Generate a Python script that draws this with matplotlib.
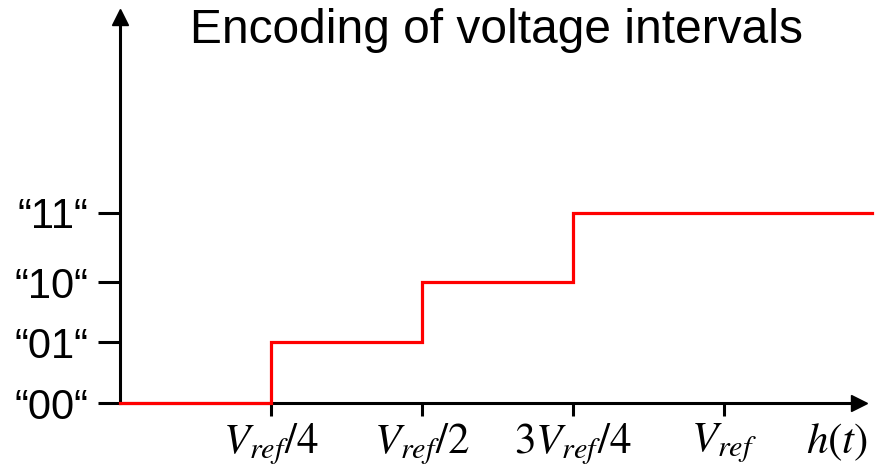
import matplotlib
matplotlib.use("Agg")
import matplotlib.pyplot as plt

plt.rcParams['font.family'] = ['Liberation Sans', 'DejaVu Sans']
plt.rcParams['mathtext.fontset'] = 'stix'

# step edges (fraction of V_ref) and the level reached at each edge
edges = [0, 0.25, 0.5, 0.75, 1.245]
levels = [0, 0.61, 1.21, 1.90]
codes = ["“00“", "“01“", "“10“", "“11“"]
x_ticks = [0.25, 0.5, 0.75, 1.0, 1.187]
x_labels = [r"$V_{ref}/4$", r"$V_{ref}/2$", r"$3V_{ref}/4$", r"$V_{ref}$", r"$h(t)$"]
title = "Encoding of voltage intervals"

fig = plt.figure(figsize=(8.77, 4.69), dpi=100)
W, H = 877, 469
ax = fig.add_axes([120 / W, 66 / H, (859 - 120) / W, (403 - 17) / H])
ax.set_xlim(0, (859 - 120) / 604)
ax.set_ylim(0, 3.86)

# red staircase
xs, ys = [], []
for i, lv in enumerate(levels):
    xs += [edges[i], edges[i + 1]]
    ys += [lv, lv]
ax.plot(xs, ys, color="red", lw=2.3, clip_on=False, zorder=5,
        solid_joinstyle="miter")

# axes as arrows
for s in ["top", "right"]:
    ax.spines[s].set_visible(False)
for s in ["left", "bottom"]:
    ax.spines[s].set_linewidth(2.2)
ax.plot(1, 0, ">k", ms=12, transform=ax.transAxes, clip_on=False)
ax.plot(0, 1, "^k", ms=12, transform=ax.transAxes, clip_on=False)

ax.set_yticks(levels)
ax.set_yticklabels(codes, fontsize=30)
ax.tick_params(axis="y", length=16, width=2.2, pad=7)
ax.set_xticks(x_ticks)
ax.set_xticklabels(x_labels, fontsize=31)
ax.tick_params(axis="x", length=9.5, width=2.2, pad=4)
ax.xaxis.get_major_ticks()[-1].tick1line.set_visible(False)

fig.text(497 / W, 1 - 43 / H, title, fontsize=34.5, ha="center", va="baseline")

fig.savefig("out.png", dpi=100)
